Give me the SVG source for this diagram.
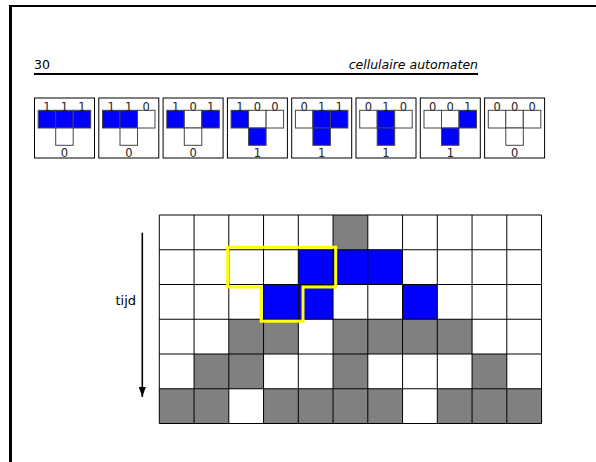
<svg xmlns="http://www.w3.org/2000/svg" width="596" height="462" viewBox="0 0 596 462">
<style>
  text { font-family: "DejaVu Sans", Verdana, sans-serif; fill: #000; }
  .hdr { font-size: 12.5px; }
  .lbl { font-size: 11.5px; text-anchor: middle; fill: #222; }
  .box { fill: #fff; stroke: #000; stroke-width: 1; }
  .c0 { fill: #fff; stroke: #444; stroke-width: 1; }
  .c1 { fill: #0000ff; stroke: #444; stroke-width: 1; }
  .g { fill: #808080; }
  .b { fill: #0000ff; }
  .grid { fill: none; stroke: #000; stroke-width: 1; }
</style>
<defs>
  <marker id="ah" markerWidth="10" markerHeight="7" refX="10" refY="3.5" orient="auto" markerUnits="userSpaceOnUse" viewBox="0 0 10 7">
    <path d="M0,0 L10,3.5 L0,7 Z" fill="#000"/>
  </marker>
</defs>
<rect width="596" height="462" fill="#fff"/>
<!-- page frame -->
<path d="M10.5,462 V6" stroke="#000" stroke-width="3" fill="none"/>
<path d="M9,6 H596" stroke="#000" stroke-width="2" fill="none"/>
<!-- header -->
<g id="header">
  <text class="hdr" x="34" y="69">30</text>
  <text class="hdr" x="478" y="69" text-anchor="end" font-style="italic">cellulaire automaten</text>
  <line x1="34" y1="74" x2="478" y2="74" stroke="#000" stroke-width="2"/>
</g>
<!-- rule boxes -->
<g id="rule-111" transform="translate(34.5,98)">
  <rect class="box" x="0" y="0" width="60" height="60"/>
  <rect class="c1" x="3.7" y="12.3" width="17.5" height="17.7"/><rect class="c1" x="21.2" y="12.3" width="17.5" height="17.7"/><rect class="c1" x="38.7" y="12.3" width="17.5" height="17.7"/>
  <rect class="c0" x="21.2" y="30" width="17.5" height="17.3"/>
  <text class="lbl" x="12.45" y="12.5">1</text><text class="lbl" x="29.95" y="12.5">1</text><text class="lbl" x="47.45" y="12.5">1</text>
  <text class="lbl" x="30" y="59">0</text>
</g>
<g id="rule-110" transform="translate(98.8,98)">
  <rect class="box" x="0" y="0" width="60" height="60"/>
  <rect class="c1" x="3.7" y="12.3" width="17.5" height="17.7"/><rect class="c1" x="21.2" y="12.3" width="17.5" height="17.7"/><rect class="c0" x="38.7" y="12.3" width="17.5" height="17.7"/>
  <rect class="c0" x="21.2" y="30" width="17.5" height="17.3"/>
  <text class="lbl" x="12.45" y="12.5">1</text><text class="lbl" x="29.95" y="12.5">1</text><text class="lbl" x="47.45" y="12.5">0</text>
  <text class="lbl" x="30" y="59">0</text>
</g>
<g id="rule-101" transform="translate(163.1,98)">
  <rect class="box" x="0" y="0" width="60" height="60"/>
  <rect class="c1" x="3.7" y="12.3" width="17.5" height="17.7"/><rect class="c0" x="21.2" y="12.3" width="17.5" height="17.7"/><rect class="c1" x="38.7" y="12.3" width="17.5" height="17.7"/>
  <rect class="c0" x="21.2" y="30" width="17.5" height="17.3"/>
  <text class="lbl" x="12.45" y="12.5">1</text><text class="lbl" x="29.95" y="12.5">0</text><text class="lbl" x="47.45" y="12.5">1</text>
  <text class="lbl" x="30" y="59">0</text>
</g>
<g id="rule-100" transform="translate(227.4,98)">
  <rect class="box" x="0" y="0" width="60" height="60"/>
  <rect class="c1" x="3.7" y="12.3" width="17.5" height="17.7"/><rect class="c0" x="21.2" y="12.3" width="17.5" height="17.7"/><rect class="c0" x="38.7" y="12.3" width="17.5" height="17.7"/>
  <rect class="c1" x="21.2" y="30" width="17.5" height="17.3"/>
  <text class="lbl" x="12.45" y="12.5">1</text><text class="lbl" x="29.95" y="12.5">0</text><text class="lbl" x="47.45" y="12.5">0</text>
  <text class="lbl" x="30" y="59">1</text>
</g>
<g id="rule-011" transform="translate(291.7,98)">
  <rect class="box" x="0" y="0" width="60" height="60"/>
  <rect class="c0" x="3.7" y="12.3" width="17.5" height="17.7"/><rect class="c1" x="21.2" y="12.3" width="17.5" height="17.7"/><rect class="c1" x="38.7" y="12.3" width="17.5" height="17.7"/>
  <rect class="c1" x="21.2" y="30" width="17.5" height="17.3"/>
  <text class="lbl" x="12.45" y="12.5">0</text><text class="lbl" x="29.95" y="12.5">1</text><text class="lbl" x="47.45" y="12.5">1</text>
  <text class="lbl" x="30" y="59">1</text>
</g>
<g id="rule-010" transform="translate(356,98)">
  <rect class="box" x="0" y="0" width="60" height="60"/>
  <rect class="c0" x="3.7" y="12.3" width="17.5" height="17.7"/><rect class="c1" x="21.2" y="12.3" width="17.5" height="17.7"/><rect class="c0" x="38.7" y="12.3" width="17.5" height="17.7"/>
  <rect class="c1" x="21.2" y="30" width="17.5" height="17.3"/>
  <text class="lbl" x="12.45" y="12.5">0</text><text class="lbl" x="29.95" y="12.5">1</text><text class="lbl" x="47.45" y="12.5">0</text>
  <text class="lbl" x="30" y="59">1</text>
</g>
<g id="rule-001" transform="translate(420.3,98)">
  <rect class="box" x="0" y="0" width="60" height="60"/>
  <rect class="c0" x="3.7" y="12.3" width="17.5" height="17.7"/><rect class="c0" x="21.2" y="12.3" width="17.5" height="17.7"/><rect class="c1" x="38.7" y="12.3" width="17.5" height="17.7"/>
  <rect class="c1" x="21.2" y="30" width="17.5" height="17.3"/>
  <text class="lbl" x="12.45" y="12.5">0</text><text class="lbl" x="29.95" y="12.5">0</text><text class="lbl" x="47.45" y="12.5">1</text>
  <text class="lbl" x="30" y="59">1</text>
</g>
<g id="rule-000" transform="translate(484.6,98)">
  <rect class="box" x="0" y="0" width="60" height="60"/>
  <rect class="c0" x="3.7" y="12.3" width="17.5" height="17.7"/><rect class="c0" x="21.2" y="12.3" width="17.5" height="17.7"/><rect class="c0" x="38.7" y="12.3" width="17.5" height="17.7"/>
  <rect class="c0" x="21.2" y="30" width="17.5" height="17.3"/>
  <text class="lbl" x="12.45" y="12.5">0</text><text class="lbl" x="29.95" y="12.5">0</text><text class="lbl" x="47.45" y="12.5">0</text>
  <text class="lbl" x="30" y="59">0</text>
</g>
<!-- evolution grid -->
<g id="grid">
  <rect x="159.3" y="215" width="382.25" height="208.5" fill="#fff"/>
  <rect class="g" x="333.05" y="215" width="34.75" height="34.75"/>
  <rect class="b" x="298.3" y="249.75" width="34.75" height="34.75"/>
  <rect class="b" x="333.05" y="249.75" width="34.75" height="34.75"/>
  <rect class="b" x="367.8" y="249.75" width="34.75" height="34.75"/>
  <rect class="b" x="263.55" y="284.5" width="34.75" height="34.75"/>
  <rect class="b" x="298.3" y="284.5" width="34.75" height="34.75"/>
  <rect class="b" x="402.55" y="284.5" width="34.75" height="34.75"/>
  <rect class="g" x="228.8" y="319.25" width="69.5" height="34.75"/>
  <rect class="g" x="333.05" y="319.25" width="139" height="34.75"/>
  <rect class="g" x="194.05" y="354" width="69.5" height="34.75"/>
  <rect class="g" x="333.05" y="354" width="34.75" height="34.75"/>
  <rect class="g" x="472.05" y="354" width="34.75" height="34.75"/>
  <rect class="g" x="159.3" y="388.75" width="69.5" height="34.75"/>
  <rect class="g" x="263.55" y="388.75" width="139" height="34.75"/>
  <rect class="g" x="437.3" y="388.75" width="104.25" height="34.75"/>
  <path class="grid" d="M159.3,215 V423.5 M194.05,215 V423.5 M228.8,215 V423.5 M263.55,215 V423.5 M298.3,215 V423.5 M333.05,215 V423.5 M367.8,215 V423.5 M402.55,215 V423.5 M437.3,215 V423.5 M472.05,215 V423.5 M506.8,215 V423.5 M541.55,215 V423.5 M159.3,215 H541.55 M159.3,249.75 H541.55 M159.3,284.5 H541.55 M159.3,319.25 H541.55 M159.3,354 H541.55 M159.3,388.75 H541.55 M159.3,423.5 H541.55"/>
</g>
<g id="neighbourhood">
  <polygon points="227.7,247.2 335.7,247.2 335.7,287 303,287 303,321.2 261.2,321.2 261.2,287 227.7,287" fill="none" stroke="#ffff00" stroke-width="3"/>
</g>
<g id="time-label">
  <text x="136" y="305" font-size="13" text-anchor="end">tijd</text>
</g>
<g id="connectors">
  <line x1="142.3" y1="232.7" x2="142.3" y2="397" stroke="#000" stroke-width="1.6" marker-end="url(#ah)"/>
</g>
</svg>
